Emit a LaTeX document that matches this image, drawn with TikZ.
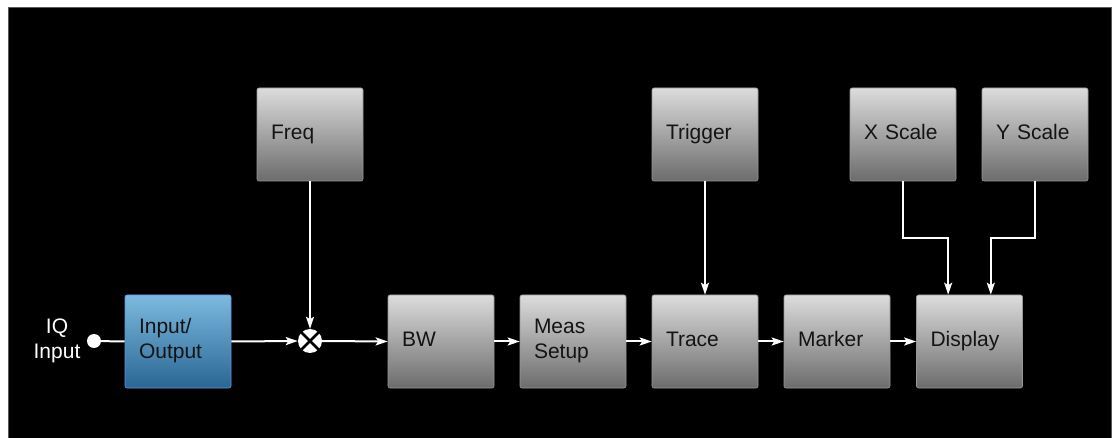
\documentclass[tikz,border=0pt]{standalone}
\usepackage{fontspec}
\setmainfont{Liberation Sans}
\usetikzlibrary{arrows.meta,calc}
\definecolor{boxtop}{HTML}{DCDCDC}
\definecolor{boxbot}{HTML}{6C6C6C}
\definecolor{bluetop}{HTML}{7CBADF}
\definecolor{bluebot}{HTML}{2A6694}
\definecolor{frame}{HTML}{5A5A5A}
\definecolor{txt}{HTML}{141414}
\begin{document}
\begin{tikzpicture}[x=1pt,y=-1pt,
  blockbox/.style={rectangle, rounded corners=2pt, draw=boxbot!70!white, line width=0.6pt,
    top color=boxtop, bottom color=boxbot, minimum width=106pt, minimum height=93pt,
    text width=78pt, inner xsep=14pt, align=left, text=txt,
    font=\fontsize{21}{25}\selectfont,
    execute at begin node=\strut, execute at end node=\strut},
  bluebox/.style={blockbox, top color=bluetop, bottom color=bluebot, draw=bluetop!80!blue},
  arr/.style={draw=white, line width=2pt, -{Stealth[length=12pt,width=8pt,inset=2.5pt]}},
  wire/.style={draw=white, line width=2pt}]
\useasboundingbox (0,0) rectangle (1114,438);
\fill[white] (0,0) rectangle (1114,438);
\filldraw[fill=black, draw=frame, line width=1pt] (8,8) rectangle (1111,445);

% main chain
\node[bluebox] (io) at (178,341.5) {Input/\\Output};
\node[circle, fill=white, minimum size=24pt, inner sep=0pt] (mix) at (310,341) {};
\draw[black, line width=2.6pt] (mix.north east) -- (mix.south west);
\draw[black, line width=2.6pt] (mix.north west) -- (mix.south east);
\node[blockbox] (bw) at (441,341.5) {BW};
\node[blockbox] (meas) at (573,341.5) {Meas\\Setup};
\node[blockbox] (trace) at (705,341.5) {Trace};
\node[blockbox] (marker) at (837,341.5) {Marker};
\node[blockbox] (disp) at (969.5,341.5) {Display};

% top row
\node[blockbox] (freq) at (310,134.5) {Freq};
\node[blockbox] (trig) at (705,134.5) {Trigger};
\node[blockbox] (xs) at (903,134.5) {X Scale};
\node[blockbox] (ys) at (1035,134.5) {Y Scale};

% input
\node[circle, fill=white, minimum size=14pt, inner sep=0pt] (dot) at (94,341) {};
\node[text=white, align=center, font=\fontsize{21}{25}\selectfont] (iqlbl) at (57,341) {IQ\\Input};

% connectors
\draw[wire] (dot) -- (io.west);
\draw[arr] (io.east) -- (mix.west);
\draw[arr] (freq.south) -- (mix.north);
\draw[arr] (mix.east) -- (bw.west);
\draw[arr] (bw.east) -- (meas.west);
\draw[arr] (meas.east) -- (trace.west);
\draw[arr] (trace.east) -- (marker.west);
\draw[arr] (marker.east) -- (disp.west);
\draw[arr] (trig.south) -- (trace.north);
\coordinate (bendy) at (0,238);
\coordinate (dinx) at ($(disp.north west)!0.3!(disp.north east)$);
\coordinate (diny) at ($(disp.north west)!0.7!(disp.north east)$);
\draw[arr] (xs.south) -- (xs.south |- bendy) -| (dinx);
\draw[arr] (ys.south) -- (ys.south |- bendy) -| (diny);
\end{tikzpicture}
\end{document}
